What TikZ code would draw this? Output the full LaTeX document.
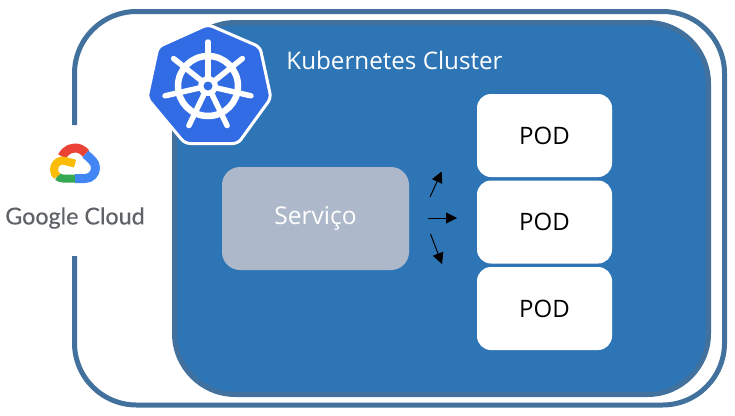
\documentclass[tikz,border=0pt]{standalone}
\usepackage{fontspec}
\setmainfont{Open Sans}
\newfontfamily\logofont[FakeBold=0.3]{Lato}
\usetikzlibrary{arrows.meta}
\definecolor{frameline}{HTML}{41719C}
\definecolor{clusterblue}{HTML}{2E75B6}
\definecolor{kubeblue}{HTML}{326CE5}
\definecolor{servicegray}{HTML}{ADB9CA}
\definecolor{cloudred}{HTML}{EA4335}
\definecolor{cloudblue}{HTML}{4285F4}
\definecolor{cloudgreen}{HTML}{34A853}
\definecolor{cloudyellow}{HTML}{FBBC05}
\definecolor{cloudtext}{HTML}{5F6368}
\tikzset{
	podbox/.style={fill=white, rounded corners=14pt, minimum width=135pt, minimum height=83pt, inner sep=0pt, font=\fontsize{24}{28}\selectfont},
	flowarrow/.style={line width=1pt, -{Triangle[length=11pt,width=11pt]}},
	cloudpart/.style={line width=9pt, line join=round}
}

\begin{document}
\begin{tikzpicture}[x=1pt, y=-1pt]
	%%%%% START %%%%%
	
	\useasboundingbox (0, 0) rectangle (735, 415);
	
	\draw[line width=5pt, color=frameline, rounded corners=62pt] (74.5, 125) -- (74.5, 11.5) -- (724.5, 11.5) -- (724.5, 405) -- (74.5, 405) -- (74.5, 256);
	\draw[line width=5pt, color=frameline, fill=clusterblue, rounded corners=61pt] (174.5, 22.5) rectangle (708.5, 394.5);
	
	\node[text=white, font=\fontsize{24.2}{28}\selectfont] (cluster) at (394.5, 60) {Kubernetes Cluster};
	
	\node[fill=servicegray, rounded corners=18pt, minimum width=187pt, minimum height=103pt, inner sep=0pt, text=white, font=\fontsize{24.5}{28}\selectfont] (service) at (315.5, 218.5) {\raisebox{-2pt}{Serviço}};
	
	\node[podbox] (podA) at (544.5, 135.5) {POD};
	\node[podbox] (podB) at (544.5, 222) {POD};
	\node[podbox] (podC) at (544.5, 308.5) {POD};
	
	\coordinate (upFrom) at (430, 197);
	\coordinate (upTo) at (441.7, 171.5);
	\coordinate (midFrom) at (428, 218);
	\coordinate (midTo) at (457, 218);
	\coordinate (downFrom) at (430.5, 234);
	\coordinate (downTo) at (442, 264);
	\draw[flowarrow] (upFrom) -- (upTo);
	\draw[flowarrow] (midFrom) -- (midTo);
	\draw[flowarrow] (downFrom) -- (downTo);
	
	% kubernetes wheel
	\draw[line width=3pt, color=white, fill=kubeblue, rounded corners=5pt] (208, 24.5) -- (260, 47) -- (271, 98) -- (238, 143.5) -- (185, 143.5) -- (147, 98) -- (158, 47) -- cycle;
	\draw[line width=6.5pt, color=white] (208, 86) circle (30);
	\foreach \i in {0,...,6} {
		\draw[line width=5.5pt, color=white, line cap=round] (208, 86) -- ++(-90+\i*360/7:44);
	}
	\draw[fill=white, draw=none] (208, 86) circle (10);
	\draw[fill=kubeblue, draw=none] (208, 86) circle (4.5);
	
	% google cloud
	\draw[cloudpart, color=cloudred] (75, 161.7) ++(-158:13.7) arc (-158:-37:13.7);
	\draw[cloudpart, color=cloudblue] (75, 178.5) -- (85, 178.5) arc (90:-45:10.5) -- (85.5, 154);
	\draw[cloudpart, line width=8pt, color=cloudgreen] (75, 178.5) -- (63, 178.5) arc (90:130:9);
	\draw[cloudpart, line width=8pt, color=cloudyellow] (75, 163.5) -- (63, 160.5) arc (-90:-230:9);
	\node[text=cloudtext, font=\logofont\fontsize{23.3}{28}\selectfont] (google) at (75, 218) {Google Cloud};
	
	%%%%% END %%%%%
\end{tikzpicture}
\end{document}
